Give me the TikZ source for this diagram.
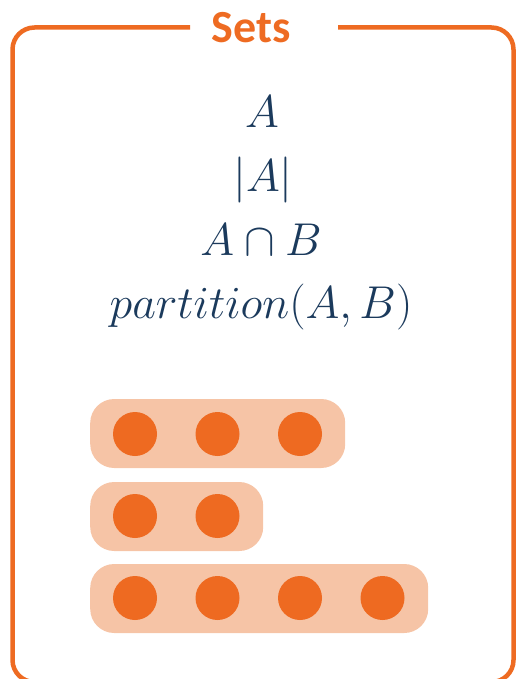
\RequirePackage{fix-cm}
\documentclass[tikz,border=0pt]{standalone}
\usepackage{fontspec}
\newfontfamily\titlefont{Carlito}
\definecolor{frameor}{HTML}{EE6B22}
\definecolor{dotor}{HTML}{EE6A21}
\definecolor{barbg}{HTML}{F6C4A6}
\definecolor{mathblue}{HTML}{1B3A5C}
\tikzset{
  mathtxt/.style={anchor=base, inner sep=0pt, text=mathblue, font=\fontsize{46}{52}\selectfont},
  setbar/.style={fill=barbg, rounded corners=24pt, inner sep=0pt, minimum height=69pt, anchor=west},
  dot/.style={circle, fill=dotor, inner sep=0pt, minimum size=44pt},
  frame/.style={draw=frameor, line width=4.5pt, rounded corners=22pt}
}
\begin{document}
\begin{tikzpicture}[x=1pt,y=-1pt]
\useasboundingbox (0,0) rectangle (516,679);
% frame
\draw[frame] (190,27.5) -- (12.5,27.5) -- (12.5,682) -- (513.5,682) -- (513.5,27.5) -- (338,27.5);
\node[anchor=base, inner sep=0pt, text=frameor, font=\titlefont\bfseries\fontsize{46}{50}\selectfont] (title) at (251,43) {Sets};
% math lines
\node[mathtxt] (l1) at (262,128) {$A$};
\node[mathtxt] (l2) at (263,191) {$|A|$};
\node[mathtxt] (l3) at (261,255) {$A\cap B$};
\node[mathtxt] (l4) at (261,318) {$partition(A,B)$};
% bars
\node[setbar, minimum width=255pt] (b1) at (90,433.5) {};
\node[setbar, minimum width=173pt] (b2) at (90,516.5) {};
\node[setbar, minimum width=338pt] (b3) at (90,598.5) {};
% dots
\foreach \r/\y/\n in {1/434/3, 2/516/2, 3/598/4}{
  \foreach \i/\x in {1/135,2/217.5,3/300,4/382.5}{
    \ifnum\i>\n\relax\else
      \node[dot] (d\r\i) at (\x,\y) {};
    \fi
  }
}
\end{tikzpicture}
\end{document}
